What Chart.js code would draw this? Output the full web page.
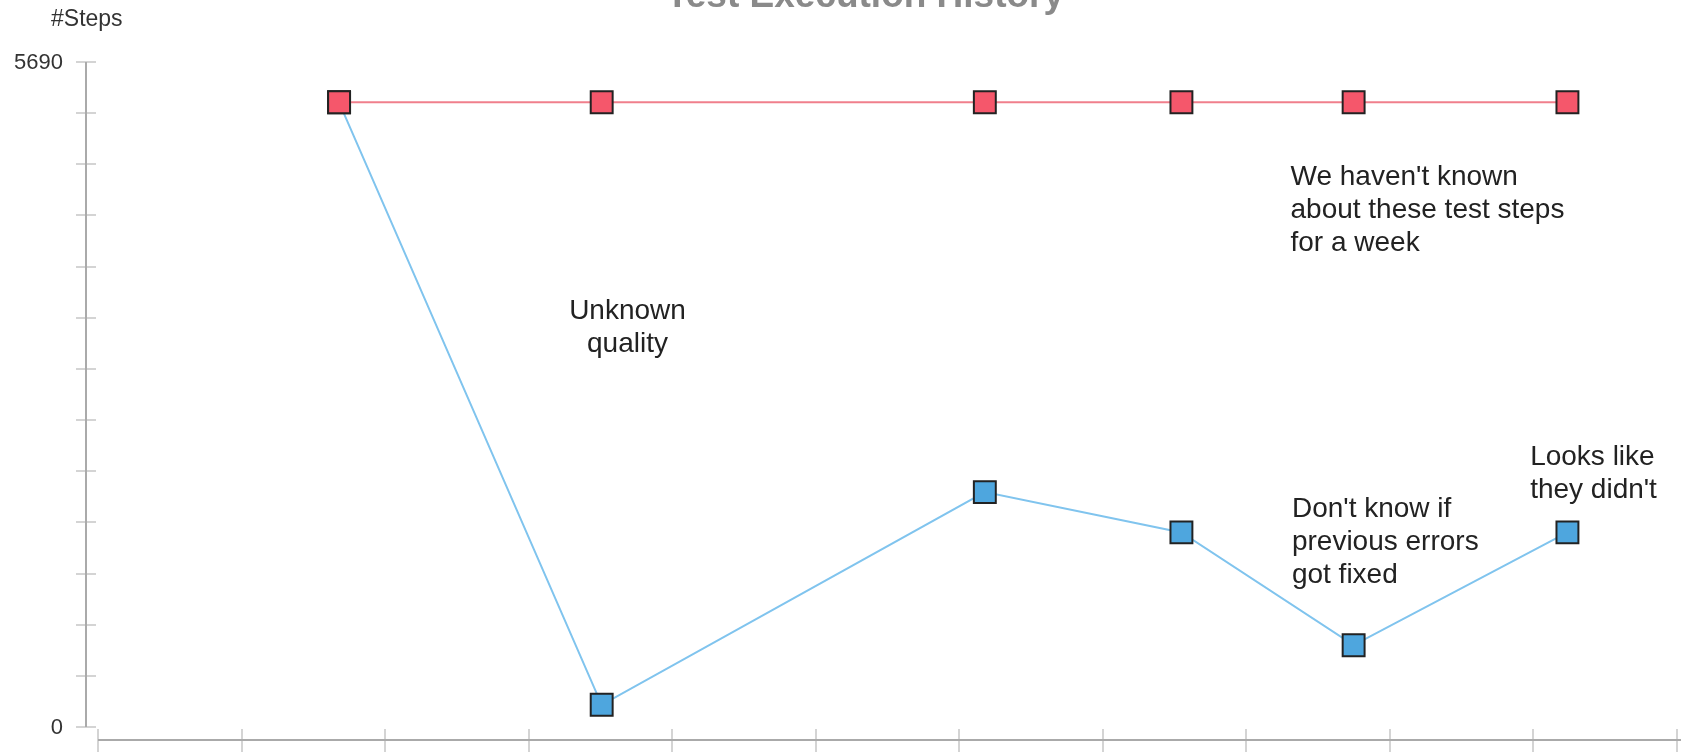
<!DOCTYPE html>
<html>
<head>
<meta charset="utf-8">
<title>Test Execution History</title>
<script src="https://cdn.jsdelivr.net/npm/chart.js@4/dist/chart.umd.min.js"></script>
<style>
  html, body { margin: 0; padding: 0; background: #fff; overflow: hidden; }
  #wrap { position: relative; width: 1681px; height: 752px; }
  canvas { display: block; }
</style>
</head>
<body>
<div id="wrap"><canvas id="historyChart"></canvas></div>
<script>
// Chart data
const chartTitle = 'Test Execution History';
const yAxisTitle = '#Steps';
const runPositions = [1.68, 3.51, 6.18, 7.55, 8.75, 10.24];
const totalSteps = [5345, 5345, 5345, 5345, 5345, 5345];
const executedSteps = [5345, 190, 2010, 1665, 700, 1665];
const yTickLabels = [0, 5690];
const yMax = 5690;
const yTickCount = 13;
const xTickCount = 11;

// notes, anchored in data units
const notes = [
    { x: 3.69, y: 3560, align: 'center', lines: ['Unknown', 'quality'] },
    { x: 8.31, y: 4706, align: 'left', lines: ["We haven't known", 'about these test steps', 'for a week'] },
    { x: 8.32, y: 1860, align: 'left', lines: ["Don't know if", 'previous errors', 'got fixed'] },
    { x: 9.98, y: 2312, align: 'left', lines: ['Looks like', "they didn't"] }
];

const FONT = '"Liberation Sans", Arial, sans-serif';

// axes, labels, title and notes
const decor = {
    id: 'decor',
    beforeDatasetsDraw(chart) {
        const ctx = chart.ctx;
        const xs = chart.scales.x;
        const ys = chart.scales.y;
        const axisX = xs.left - 12;
        const axisY = ys.bottom + 13;
        ctx.save();

        // y tick marks
        ctx.strokeStyle = '#d4d4d4';
        ctx.lineWidth = 2;
        ys.ticks.forEach(t => {
            const py = Math.round(ys.getPixelForValue(t.value));
            ctx.beginPath();
            ctx.moveTo(axisX - 10, py);
            ctx.lineTo(axisX + 10, py);
            ctx.stroke();
        });
        // x tick marks
        xs.ticks.forEach(t => {
            const px = Math.round(xs.getPixelForValue(t.value));
            ctx.beginPath();
            ctx.moveTo(px, axisY - 11);
            ctx.lineTo(px, chart.height);
            ctx.stroke();
        });

        // axis lines
        ctx.strokeStyle = '#aaaaaa';
        ctx.beginPath();
        ctx.moveTo(axisX, ys.getPixelForValue(yMax));
        ctx.lineTo(axisX, ys.getPixelForValue(0));
        ctx.stroke();
        ctx.beginPath();
        ctx.moveTo(xs.left, axisY);
        ctx.lineTo(chart.width, axisY);
        ctx.stroke();

        // y labels
        ctx.fillStyle = '#333';
        ctx.font = '22px ' + FONT;
        ctx.textAlign = 'right';
        ctx.textBaseline = 'middle';
        yTickLabels.forEach(v => {
            ctx.fillText(String(v), axisX - 23, ys.getPixelForValue(v) + 1);
        });
        ctx.textAlign = 'left';
        ctx.font = '23px ' + FONT;
        ctx.fillText(yAxisTitle, 51, 20);

        // title, cut off at the top
        ctx.fillStyle = '#8a8a8a';
        ctx.font = 'bold 37px ' + FONT;
        ctx.textAlign = 'center';
        ctx.textBaseline = 'alphabetic';
        ctx.fillText(chartTitle, 865, 7);
        ctx.restore();
    },
    afterDraw(chart) {
        const ctx = chart.ctx;
        const xs = chart.scales.x;
        const ys = chart.scales.y;
        ctx.save();
        ctx.fillStyle = '#222';
        ctx.font = '28px ' + FONT;
        ctx.textBaseline = 'middle';
        notes.forEach(n => {
            ctx.textAlign = n.align;
            const px = xs.getPixelForValue(n.x);
            const py = ys.getPixelForValue(n.y);
            n.lines.forEach((line, i) => ctx.fillText(line, px, py + i * 33));
        });
        ctx.restore();
    }
};

const toPoints = (xv, yv) => xv.map((v, i) => ({ x: v, y: yv[i] }));

new Chart(document.getElementById('historyChart'), {
    type: 'line',
    data: {
        datasets: [{
            label: 'Total steps',
            data: toPoints(runPositions, totalSteps),
            borderColor: '#f07f8c',
            borderWidth: 2,
            backgroundColor: '#f5576b',
            pointStyle: 'rect',
            pointRadius: 15.5,
            pointHoverRadius: 15.5,
            pointBorderColor: '#222',
            pointBorderWidth: 2,
            tension: 0
        }, {
            label: 'Executed steps',
            data: toPoints(runPositions, executedSteps),
            borderColor: '#80c4ee',
            borderWidth: 2,
            backgroundColor: '#4ea6de',
            pointStyle: 'rect',
            pointRadius: 15.5,
            pointHoverRadius: 15.5,
            pointBorderColor: '#222',
            pointBorderWidth: 2,
            tension: 0
        }]
    },
    options: {
        responsive: true,
        maintainAspectRatio: false,
        animation: false,
        layout: {
            autoPadding: false,
            padding: { left: 98, right: 4.5, top: 62, bottom: 25 }
        },
        plugins: {
            legend: { display: false },
            tooltip: { enabled: false },
            title: { display: false }
        },
        scales: {
            x: {
                type: 'linear',
                display: false,
                min: 0,
                max: xTickCount,
                ticks: { stepSize: 1 }
            },
            y: {
                display: false,
                min: 0,
                max: yMax,
                ticks: { stepSize: yMax / yTickCount }
            }
        }
    },
    plugins: [decor]
});
</script>
</body>
</html>
